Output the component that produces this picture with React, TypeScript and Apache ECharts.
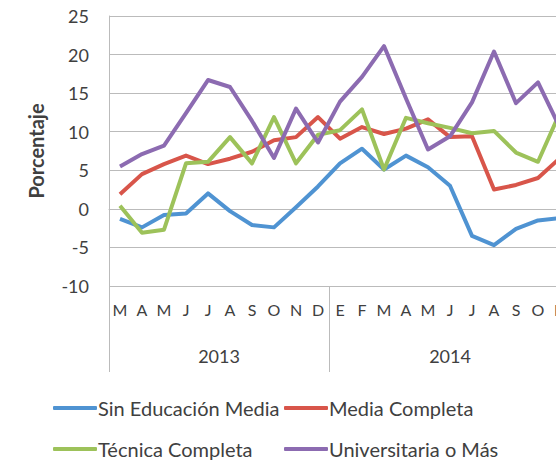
import React, { useEffect, useRef } from "react";
import * as echarts from "echarts";

const months = ["M", "A", "M", "J", "J", "A", "S", "O", "N", "D", "E", "F", "M", "A", "M", "J", "J", "A", "S", "O", "N"];
const years = ["2013", "2014"];
const yearStarts = [0, 10, 21];
const yearCenters = [5, 15.5];

const sinEducacionMedia = [-1.3, -2.4, -0.8, -0.6, 2.0, -0.3, -2.1, -2.4, 0.2, 2.9, 5.9, 7.8, 5.1, 6.9, 5.4, 3.0, -3.5, -4.7, -2.6, -1.5, -1.2];
const mediaCompleta = [1.9, 4.5, 5.8, 6.9, 5.8, 6.5, 7.4, 8.9, 9.3, 11.9, 9.1, 10.6, 9.7, 10.4, 11.6, 9.3, 9.4, 2.5, 3.1, 4.0, 6.6];
const tecnicaCompleta = [0.4, -3.1, -2.7, 5.9, 6.1, 9.3, 5.9, 11.9, 5.9, 9.6, 10.2, 12.9, 5.1, 11.8, 11.1, 10.5, 9.8, 10.1, 7.3, 6.1, 12.5];
const universitaria = [5.5, 7.1, 8.2, 12.4, 16.7, 15.8, 11.4, 6.6, 13.0, 8.6, 13.9, 17.1, 21.1, 14.3, 7.7, 9.4, 13.8, 20.4, 13.7, 16.4, 10.5];

const seriesNames = ["Sin Educación Media", "Media Completa", "Técnica Completa", "Universitaria o Más"];
const seriesData = [sinEducacionMedia, mediaCompleta, tecnicaCompleta, universitaria];
const colors = ["#4F93D2", "#D8554A", "#9DC25A", "#8C6BB1"];

const FONT = "Lato, 'Open Sans', sans-serif";
const TEXT = "#404040";
const GRID = "#BBBBBB";

const legendBase = {
  orient: "vertical",
  top: 398,
  height: 80,
  padding: 0,
  itemGap: 21,
  itemWidth: 44,
  itemHeight: 4,
  icon: "roundRect",
  textStyle: { fontSize: 20, color: TEXT, fontFamily: FONT, padding: [0, 0, 0, -4] },
};

export default function App() {
  const ref = useRef<HTMLDivElement>(null);
  useEffect(() => {
    if (!ref.current) return;
    const chart = echarts.init(ref.current, null, { renderer: "svg" });
    chart.setOption({
      animation: false,
      textStyle: { fontFamily: FONT },
      grid: { left: 109, top: 16, width: 462, height: 270, outerBoundsMode: "none" },
      xAxis: [
        {
          type: "category",
          data: months,
          boundaryGap: true,
          axisLine: { show: true, lineStyle: { color: GRID, width: 1 } },
          axisTick: { show: false },
          axisLabel: { interval: 0, margin: 15, fontSize: 16, color: TEXT, fontFamily: FONT },
          splitLine: { show: false },
        },
        {
          type: "value",
          min: 0,
          max: 21,
          position: "bottom",
          axisLine: { show: false },
          splitLine: { show: false },
          axisTick: { show: true, customValues: yearStarts, length: 86, lineStyle: { color: GRID, width: 1 } },
          axisLabel: {
            customValues: yearCenters,
            margin: 61,
            fontSize: 18,
            color: TEXT,
            fontFamily: FONT,
            formatter: (v: number) => years[yearCenters.indexOf(v)] ?? "",
          },
        },
      ],
      yAxis: {
        type: "value",
        min: -10,
        max: 25,
        interval: 5,
        name: "Porcentaje",
        nameLocation: "middle",
        nameRotate: 90,
        nameGap: 63,
        nameTextStyle: { fontSize: 20, fontWeight: "bold", color: TEXT, fontFamily: FONT },
        axisLine: { show: true, lineStyle: { color: GRID, width: 1 } },
        axisTick: { show: false },
        axisLabel: { margin: 20, fontSize: 18, color: TEXT, fontFamily: FONT },
        splitLine: { lineStyle: { color: GRID, width: 1 } },
      },
      legend: [
        { ...legendBase, data: [seriesNames[0], seriesNames[2]], left: 53 },
        { ...legendBase, data: [seriesNames[1], seriesNames[3]], left: 284 },
      ],
      series: seriesNames.map((name, i) => ({
        name,
        type: "line",
        xAxisIndex: 0,
        data: seriesData[i],
        symbol: "none",
        color: colors[i],
        lineStyle: { width: 4, color: colors[i], join: "round" },
      })),
    });
    return () => chart.dispose();
  }, []);
  return (
    <div style={{ position: "fixed", left: 0, top: 0, width: 556, height: 464, overflow: "hidden", background: "#fff" }}>
      <div ref={ref} style={{ width: 600, height: 464 }} />
    </div>
  );
}
